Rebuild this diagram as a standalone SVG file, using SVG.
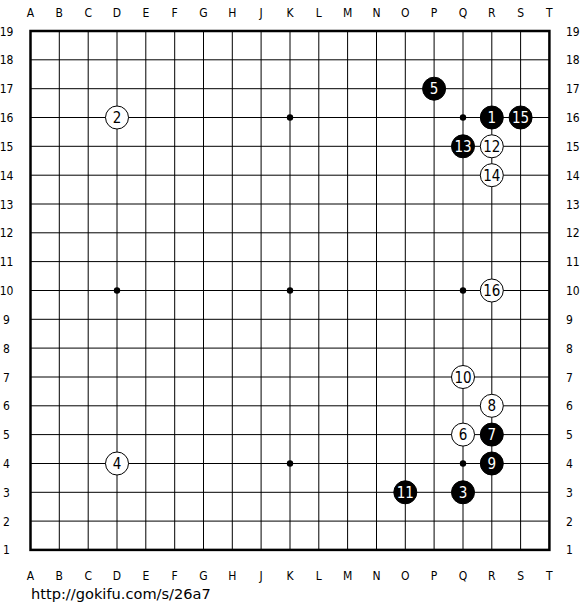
<svg xmlns="http://www.w3.org/2000/svg" width="580" height="610" viewBox="0 0 580 610">
<style>
.bg{fill:#fff}
.ln{stroke:#000;stroke-width:1;fill:none}
.bd{stroke:#000;stroke-width:2.5;fill:none}
.lb{font-family:"DejaVu Sans Condensed","DejaVu Sans",sans-serif;font-stretch:condensed;font-size:12px;fill:#000}
.lm{text-anchor:middle}
.b circle{fill:#000;stroke:#000;stroke-width:1}
.w circle{fill:#fff;stroke:#000;stroke-width:1}
.st text{font-family:"DejaVu Sans Condensed","DejaVu Sans",sans-serif;font-stretch:condensed;font-size:15px;text-anchor:middle}
.b text{fill:#fff}
.w text{fill:#000}
.url{font-family:"DejaVu Sans",sans-serif;font-size:14.6px;fill:#000}
</style>
<rect class="bg" x="0" y="0" width="580" height="610"/>
<g id="grid">
<path class="ln" d="M59.3 31V549.9M88.2 31V549.9M117 31V549.9M145.8 31V549.9M174.7 31V549.9M203.5 31V549.9M232.3 31V549.9M261.1 31V549.9M290 31V549.9M318.8 31V549.9M347.6 31V549.9M376.5 31V549.9M405.3 31V549.9M434.1 31V549.9M463 31V549.9M491.8 31V549.9M520.6 31V549.9"/>
<path class="ln" d="M30.5 59.8H549.4M30.5 88.7H549.4M30.5 117.5H549.4M30.5 146.3H549.4M30.5 175.2H549.4M30.5 204H549.4M30.5 232.8H549.4M30.5 261.6H549.4M30.5 290.5H549.4M30.5 319.3H549.4M30.5 348.1H549.4M30.5 377H549.4M30.5 405.8H549.4M30.5 434.6H549.4M30.5 463.5H549.4M30.5 492.3H549.4M30.5 521.1H549.4"/>
<rect class="bd" x="30.5" y="31" width="518.9" height="518.9"/>
</g>
<g id="hoshi">
<circle cx="117" cy="117.5" r="3.2"/><circle cx="290" cy="117.5" r="3.2"/><circle cx="463" cy="117.5" r="3.2"/>
<circle cx="117" cy="290.5" r="3.2"/><circle cx="290" cy="290.5" r="3.2"/><circle cx="463" cy="290.5" r="3.2"/>
<circle cx="117" cy="463.5" r="3.2"/><circle cx="290" cy="463.5" r="3.2"/><circle cx="463" cy="463.5" r="3.2"/>
</g>
<g id="col-labels" class="lb lm">
<text x="30.5" y="16.5">A</text><text x="59.3" y="16.5">B</text><text x="88.2" y="16.5">C</text><text x="117" y="16.5">D</text><text x="145.8" y="16.5">E</text><text x="174.7" y="16.5">F</text><text x="203.5" y="16.5">G</text><text x="232.3" y="16.5">H</text><text x="261.1" y="16.5">J</text><text x="290" y="16.5">K</text><text x="318.8" y="16.5">L</text><text x="347.6" y="16.5">M</text><text x="376.5" y="16.5">N</text><text x="405.3" y="16.5">O</text><text x="434.1" y="16.5">P</text><text x="463" y="16.5">Q</text><text x="491.8" y="16.5">R</text><text x="520.6" y="16.5">S</text><text x="549.4" y="16.5">T</text>
<text x="30.5" y="580">A</text><text x="59.3" y="580">B</text><text x="88.2" y="580">C</text><text x="117" y="580">D</text><text x="145.8" y="580">E</text><text x="174.7" y="580">F</text><text x="203.5" y="580">G</text><text x="232.3" y="580">H</text><text x="261.1" y="580">J</text><text x="290" y="580">K</text><text x="318.8" y="580">L</text><text x="347.6" y="580">M</text><text x="376.5" y="580">N</text><text x="405.3" y="580">O</text><text x="434.1" y="580">P</text><text x="463" y="580">Q</text><text x="491.8" y="580">R</text><text x="520.6" y="580">S</text><text x="549.4" y="580">T</text>
</g>
<g id="row-labels-left" class="lb lm">
<text x="6.5" y="35.5">19</text><text x="6.5" y="64.3">18</text><text x="6.5" y="93.2">17</text><text x="6.5" y="122">16</text><text x="6.5" y="150.8">15</text><text x="6.5" y="179.7">14</text><text x="6.5" y="208.5">13</text><text x="6.5" y="237.3">12</text><text x="6.5" y="266.1">11</text><text x="6.5" y="295">10</text><text x="6.5" y="323.8">9</text><text x="6.5" y="352.6">8</text><text x="6.5" y="381.5">7</text><text x="6.5" y="410.3">6</text><text x="6.5" y="439.1">5</text><text x="6.5" y="468">4</text><text x="6.5" y="496.8">3</text><text x="6.5" y="525.6">2</text><text x="6.5" y="554.4">1</text>
</g>
<g id="row-labels-right" class="lb">
<text x="566" y="35.5">19</text><text x="566" y="64.3">18</text><text x="566" y="93.2">17</text><text x="566" y="122">16</text><text x="566" y="150.8">15</text><text x="566" y="179.7">14</text><text x="566" y="208.5">13</text><text x="566" y="237.3">12</text><text x="566" y="266.1">11</text><text x="566" y="295">10</text><text x="566" y="323.8">9</text><text x="566" y="352.6">8</text><text x="566" y="381.5">7</text><text x="566" y="410.3">6</text><text x="566" y="439.1">5</text><text x="566" y="468">4</text><text x="566" y="496.8">3</text><text x="566" y="525.6">2</text><text x="566" y="554.4">1</text>
</g>
<g id="stone-1" class="st b"><circle cx="491.8" cy="117.5" r="11.5"/><text x="491.8" y="123">1</text></g>
<g id="stone-2" class="st w"><circle cx="117" cy="117.5" r="11.5"/><text x="117" y="123">2</text></g>
<g id="stone-3" class="st b"><circle cx="463" cy="492.3" r="11.5"/><text x="463" y="497.8">3</text></g>
<g id="stone-4" class="st w"><circle cx="117" cy="463.5" r="11.5"/><text x="117" y="469">4</text></g>
<g id="stone-5" class="st b"><circle cx="434.1" cy="88.7" r="11.5"/><text x="434.1" y="94.2">5</text></g>
<g id="stone-6" class="st w"><circle cx="463" cy="434.6" r="11.5"/><text x="463" y="440.1">6</text></g>
<g id="stone-7" class="st b"><circle cx="491.8" cy="434.6" r="11.5"/><text x="491.8" y="440.1">7</text></g>
<g id="stone-8" class="st w"><circle cx="491.8" cy="405.8" r="11.5"/><text x="491.8" y="411.3">8</text></g>
<g id="stone-9" class="st b"><circle cx="491.8" cy="463.5" r="11.5"/><text x="491.8" y="469">9</text></g>
<g id="stone-10" class="st w"><circle cx="463" cy="377" r="11.5"/><text x="463" y="382.5">10</text></g>
<g id="stone-11" class="st b"><circle cx="405.3" cy="492.3" r="11.5"/><text x="405.3" y="497.8">11</text></g>
<g id="stone-12" class="st w"><circle cx="491.8" cy="146.3" r="11.5"/><text x="491.8" y="151.8">12</text></g>
<g id="stone-13" class="st b"><circle cx="463" cy="146.3" r="11.5"/><text x="463" y="151.8">13</text></g>
<g id="stone-14" class="st w"><circle cx="491.8" cy="175.2" r="11.5"/><text x="491.8" y="180.7">14</text></g>
<g id="stone-15" class="st b"><circle cx="520.6" cy="117.5" r="11.5"/><text x="520.6" y="123">15</text></g>
<g id="stone-16" class="st w"><circle cx="491.8" cy="290.5" r="11.5"/><text x="491.8" y="296">16</text></g>
<text class="url" x="31" y="599">http://gokifu.com/s/26a7</text>
</svg>
